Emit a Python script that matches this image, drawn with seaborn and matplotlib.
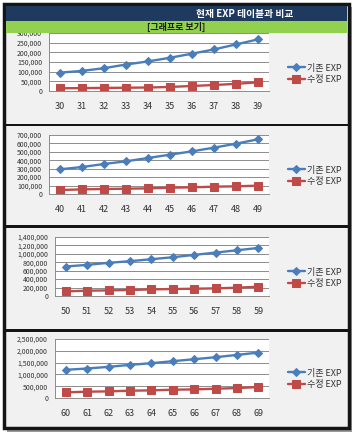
import matplotlib
matplotlib.use("Agg")
import matplotlib.pyplot as plt
from matplotlib.patches import Rectangle
from matplotlib.ticker import FuncFormatter
import seaborn as sns
import pandas as pd

# level ranges and EXP values
levels_30 = ["30", "31", "32", "33", "34", "35", "36", "37", "38", "39"]
old_30 = [95000, 104000, 118000, 137000, 153000, 172000, 193000, 215000, 241000, 267000]
new_30 = [14000, 15000, 16000, 17000, 18000, 21000, 26000, 31000, 37000, 45000]

levels_40 = ["40", "41", "42", "43", "44", "45", "46", "47", "48", "49"]
old_40 = [293000, 320000, 356000, 388000, 427000, 467000, 506000, 550000, 597000, 649000]
new_40 = [47000, 55000, 59000, 63000, 67000, 75000, 79000, 87000, 91000, 99000]

levels_50 = ["50", "51", "52", "53", "54", "55", "56", "57", "58", "59"]
old_50 = [700000, 739000, 787000, 826000, 873000, 920000, 975000, 1030000, 1085000, 1140000]
new_50 = [110000, 126000, 134000, 142000, 157000, 165000, 173000, 181000, 197000, 220000]

levels_60 = ["60", "61", "62", "63", "64", "65", "66", "67", "68", "69"]
old_60 = [1194000, 1250000, 1320000, 1404000, 1475000, 1559000, 1643000, 1728000, 1826000, 1924000]
new_60 = [239000, 267000, 281000, 309000, 323000, 351000, 365000, 393000, 421000, 463000]

y_max = [300000, 700000, 1400000, 2500000]
y_step = [50000, 100000, 200000, 500000]

header_title = "현재 EXP 테이블과 비교"
sub_title = "[그래프로 보기]"
name_old = "기존 EXP"
name_new = "수정 EXP"

sns.set_style("white")
plt.rcParams['font.family'] = ['Noto Sans CJK KR', 'DejaVu Sans']

W, H = 354, 434
fig = plt.figure(figsize=(W / 100, H / 100), dpi=100)
fig.patch.set_facecolor("white")


def add_rect(x0, y0, x1, y1, **kw):
    fig.add_artist(Rectangle((x0 / W, 1 - y1 / H), (x1 - x0) / W, (y1 - y0) / H,
                             transform=fig.transFigure, **kw))


# frame, shadow and panel background
add_rect(7, 7, 352, 432, facecolor="#9a9a9a", edgecolor="none", zorder=-3)
add_rect(4, 4, 349, 428, facecolor="#f1f1f1", edgecolor="#151515", linewidth=2.5, zorder=-2)

BLUE = "#4a7ebb"
RED = "#be4b48"

panels = [
    (levels_30, old_30, new_30, (49, 33, 269, 91), 74),
    (levels_40, old_40, new_40, (49, 135, 269, 194), 176),
    (levels_50, old_50, new_50, (55, 237, 269, 296), 278),
    (levels_60, old_60, new_60, (55, 339, 269, 398), 379),
]

for i, (lv, old, new, box, leg_y) in enumerate(panels):
    x0, y0, x1, y1 = box
    ax = fig.add_axes([x0 / W, 1 - y1 / H, (x1 - x0) / W, (y1 - y0) / H])
    ax.set_facecolor("white")
    df = pd.DataFrame({"idx": list(range(len(lv))), "old": old, "new": new})
    sns.lineplot(data=df, x="idx", y="old", ax=ax, color=BLUE, marker="D",
                 markersize=4, markeredgecolor=BLUE, linewidth=1.7, label=name_old)
    sns.lineplot(data=df, x="idx", y="new", ax=ax, color=RED, marker="s",
                 markersize=5.5, markeredgecolor=RED, linewidth=1.7, label=name_new)
    ax.set_xlim(-0.5, len(lv) - 0.5)
    ax.set_ylim(0, y_max[i])
    ax.set_yticks(list(range(0, y_max[i] + 1, y_step[i])))
    ax.yaxis.set_major_formatter(FuncFormatter(lambda v, p: f"{v:,.0f}"))
    ax.grid(axis="y", color="#8c8c8c", linewidth=0.7)
    ax.set_axisbelow(True)
    ax.set_xticks(range(len(lv)))
    ax.set_xticklabels(lv)
    ax.set_xticks([k - 0.5 for k in range(len(lv) + 1)], minor=True)
    ax.tick_params(axis="x", which="major", length=0, pad=8, labelsize=6.5, colors="#333333")
    ax.tick_params(axis="x", which="minor", length=3, width=0.7, color="#8c8c8c", direction="out")
    ax.tick_params(axis="y", length=3, width=0.7, color="#8c8c8c", labelsize=5, labelcolor="#333333", pad=2)
    ax.set_xlabel("")
    ax.set_ylabel("")
    for s in ["top", "right"]:
        ax.spines[s].set_visible(False)
    for s in ["left", "bottom"]:
        ax.spines[s].set_color("#8c8c8c")
        ax.spines[s].set_linewidth(0.7)
    leg = ax.legend(loc="center left", bbox_to_anchor=(283 / W, 1 - leg_y / H),
                    bbox_transform=fig.transFigure, frameon=False, fontsize=6.5,
                    handlelength=1.9, handletextpad=0.3, borderpad=0, labelspacing=0.3)
    for t in leg.get_texts():
        t.set_color("#333333")

# black separators between panels
for sy in [123.5, 225, 329]:
    add_rect(5, sy, 348, sy + 2.5, facecolor="#151515", edgecolor="none", zorder=3)

# header bars
add_rect(6, 6, 347, 20.5, facecolor="#1f3a5f", edgecolor="none", zorder=4)
add_rect(6, 20.5, 347, 32.5, facecolor="#92d050", edgecolor="none", zorder=4)
fig.text(245 / W, 1 - 13.5 / H, header_title, color="white", fontsize=7,
         fontweight="bold", ha="center", va="center", zorder=5)
fig.text(176 / W, 1 - 26.5 / H, sub_title, color="#1a1a1a", fontsize=6.5,
         fontweight="bold", ha="center", va="center", zorder=5)

fig.savefig("out.png", dpi=100)
